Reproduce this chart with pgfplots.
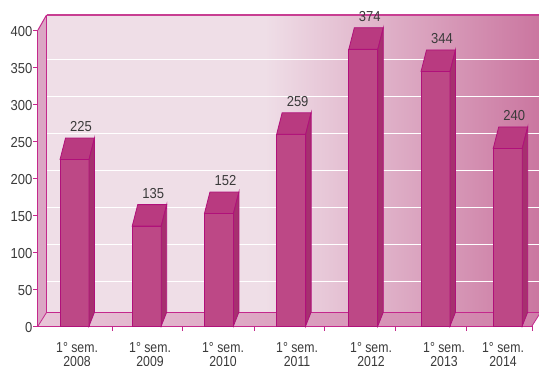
\documentclass[border=0pt]{standalone}
\usepackage{pgfplots}
\pgfplotsset{compat=1.18}
\usepackage{pgfplotstable}
\usepackage{fontspec}
\setmainfont{Liberation Sans}[FakeStretch=0.9]
\newfontfamily\xlfont{Liberation Sans}[FakeStretch=0.85]

\definecolor{axmag}{RGB}{196,40,140}
\definecolor{axtop}{RGB}{200,62,146}
\definecolor{barline}{RGB}{176,16,122}
\definecolor{barfront}{RGB}{189,72,134}
\definecolor{bartop}{RGB}{185,58,128}
\definecolor{barside}{RGB}{166,48,111}
\definecolor{walllight}{RGB}{239,222,231}
\definecolor{walldark}{RGB}{201,114,157}
\definecolor{floorlight}{RGB}{232,198,216}
\definecolor{floordark}{RGB}{207,126,168}
\definecolor{strip}{RGB}{219,166,196}
\definecolor{txt}{RGB}{58,58,58}

\pgfplotstableread{
x y
0 225
1 135
2 152
3 259
4 374
5 344
6 240
}\bardata

\pgfdeclareplotmark{bar3d}{%
  \pgfmathsetmacro\hh{\rawy*0.74}%
  \pgfsetlinewidth{0.8bp}%
  \pgfsetstrokecolor{barline}%
  \pgfsetfillcolor{bartop}%
  \pgfpathmoveto{\pgfqpoint{-14.5bp}{0bp}}%
  \pgfpathlineto{\pgfqpoint{-9bp}{21.5bp}}%
  \pgfpathlineto{\pgfqpoint{20bp}{21.5bp}}%
  \pgfpathlineto{\pgfqpoint{14.5bp}{0bp}}%
  \pgfpathclose
  \pgfusepath{fill,stroke}%
  \pgfsetfillcolor{barside}%
  \pgfpathmoveto{\pgfqpoint{14.5bp}{0bp}}%
  \pgfpathlineto{\pgfqpoint{20bp}{21.5bp}}%
  \pgfpathlineto{\pgfpoint{20bp}{14bp-\hh bp}}%
  \pgfpathlineto{\pgfpoint{14.5bp}{-\hh bp}}%
  \pgfpathclose
  \pgfusepath{fill,stroke}%
}

\begin{document}
\begin{tikzpicture}[x=1bp,y=1bp]
\path[use as bounding box] (-38,-39) rectangle (501,326);
% back wall
\fill[walllight] (8.5,13.5) rectangle (228,311);
\shade[left color=walllight, right color=walldark] (227,13.5) rectangle (512,311);
% grid lines on back wall
\foreach \v in {50,100,...,350}
  \draw[white, line width=1.2bp] (8.5,{0.74*\v+7.5}) -- (512,{0.74*\v+7.5});
% left side strip
\fill[strip] (0,0) -- (0,296) -- (8.5,311) -- (8.5,13.5) -- cycle;
% floor
\shade[left color=floorlight, right color=floordark] (0,0) -- (494,0) -- (502.5,13.5) -- (8.5,13.5) -- cycle;
% edges
\draw[axmag, line width=0.8bp] (8.5,13.5) -- (8.5,311);
\draw[axmag, line width=0.8bp] (8.5,13.5) -- (502.5,13.5);
\draw[axmag, line width=0.8bp] (0,0) -- (8.5,13.5);
\draw[axmag, line width=0.8bp] (494,0) -- (502.5,13.5);
\draw[axmag, line width=1bp] (0,296) -- (8.5,311);
\draw[axtop, line width=2bp] (8.5,311) -- (512,311);

\begin{axis}[
  at={(0,0)}, anchor=south west,
  x=72.2bp, y=0.74bp,
  xmin=-0.506, xmax=6.337, ymin=0, ymax=400,
  clip=false,
  axis x line*=bottom, axis y line*=left,
  axis line style={draw=axmag, line width=1bp},
  ytick={0,50,...,400},
  xtick={0.519,1.489,2.486,3.456,4.439,5.423,6.337},
  xticklabels={,,,,,,},
  extra x ticks={0.035,1.046,2.057,3.082,4.107,5.118,5.935},
  extra x tick labels={1° sem.\\2008,1° sem.\\2009,1° sem.\\2010,1° sem.\\2011,1° sem.\\2012,1° sem.\\2013,1° sem.\\2014},
  extra x tick style={major tick length=0pt, tick style={draw=none}},
  tick align=outside,
  major tick length=4.5bp,
  tick style={draw=axmag, line width=0.8bp},
  /pgf/number format/assume math mode=true,
  yticklabel style={font=\fontsize{14.5}{16}\selectfont, text=txt, inner sep=0pt, xshift=-1bp, yshift=-1.5bp},
  xticklabel style={align=center, font=\xlfont\fontsize{14.5}{14}\selectfont, text=txt, inner sep=0pt, yshift=-16bp},
]
\addplot[ybar, bar width=29bp, fill=barfront, draw=barline, line width=0.8bp,
  nodes near coords,
  every node near coord/.append style={anchor=south, inner sep=0pt, xshift=6.5bp, yshift=27bp,
    font=\fontsize{14.5}{16}\selectfont, text=txt}]
  table[x=x,y=y]{\bardata};
\addplot[scatter, only marks, mark=bar3d,
  visualization depends on={\thisrow{y} \as \rawy}]
  table[x=x,y=y]{\bardata};
\end{axis}
\end{tikzpicture}
\end{document}
